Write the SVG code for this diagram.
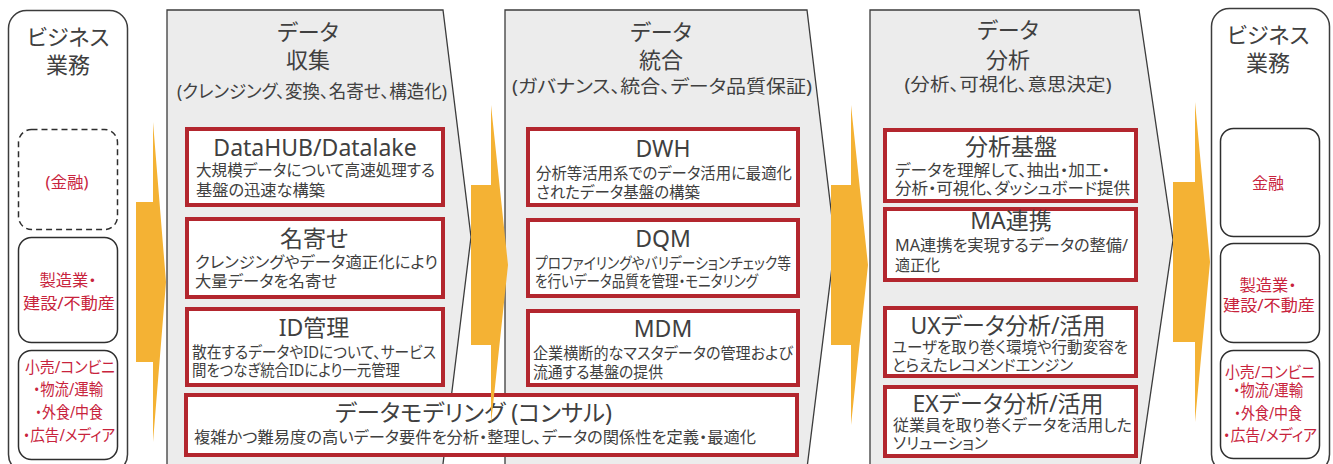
<svg xmlns="http://www.w3.org/2000/svg" width="1333" height="464" viewBox="0 0 1333 464">
<style>
text{font-family:"Noto Sans","Noto Sans CJK JP",sans-serif;fill:#404040;font-feature-settings:"palt";}
.h{font-size:22px;text-anchor:middle;}
.sub{font-size:18px;text-anchor:middle;}
.t{font-size:23px;text-anchor:middle;}
.d{font-size:16px;}
.r{fill:#C8233C;font-size:16px;text-anchor:middle;}
.panel{fill:#ECECEC;stroke:#3C3C3C;stroke-width:1.3;}
.box{fill:#FFFFFF;stroke:#B3262E;stroke-width:4;}
.cont{fill:#FFFFFF;stroke:#3C3C3C;stroke-width:1.5;}
.inner{fill:#FFFFFF;stroke:#2E2E2E;stroke-width:1.5;}
.arrow{fill:#F4B234;}
</style>
<rect width="1333" height="464" fill="#FFFFFF"/>

<g id="business-left">
<rect class="cont" x="8.5" y="10.5" width="119" height="462" rx="18"/>
<text class="h" x="68" y="45">ビジネス</text>
<text class="h" x="68" y="73">業務</text>
<rect class="inner" x="18.5" y="129.5" width="99" height="100" rx="13" stroke-dasharray="6,4"/>
<text class="r" x="67" y="188" textLength="43" lengthAdjust="spacingAndGlyphs">(金融)</text>
<rect class="inner" x="18.5" y="237.5" width="99" height="105" rx="13"/>
<text class="r" x="68" y="286" textLength="57" lengthAdjust="spacingAndGlyphs">製造業・</text>
<text class="r" x="69" y="309" textLength="92" lengthAdjust="spacingAndGlyphs">建設/不動産</text>
<rect class="inner" x="18.5" y="350.5" width="99" height="109" rx="13"/>
<text class="r" x="70" y="373" textLength="90" lengthAdjust="spacingAndGlyphs">小売/コンビニ</text>
<text class="r" x="68" y="395" textLength="70" lengthAdjust="spacingAndGlyphs">・物流/運輸</text>
<text class="r" x="69" y="418" textLength="68" lengthAdjust="spacingAndGlyphs">・外食/中食</text>
<text class="r" x="69" y="441" textLength="92" lengthAdjust="spacingAndGlyphs">・広告/メディア</text>
</g>

<g id="stage-collect">
<path class="panel" d="M167,10 H443 L471,237 L441.5,476 H167 Z"/>
<text class="h" x="308" y="40">データ</text>
<text class="h" x="308" y="68">収集</text>
<text class="sub" x="312" y="98" textLength="270" lengthAdjust="spacingAndGlyphs">(クレンジング、変換、名寄せ、構造化)</text>
</g>
<g id="box-datahub">
<rect class="box" x="187" y="129" width="256" height="76"/>
<text class="t" x="315" y="156">DataHUB/Datalake</text>
<text class="d" x="196" y="176" textLength="239" lengthAdjust="spacingAndGlyphs">大規模データについて高速処理する</text>
<text class="d" x="196" y="196" textLength="129" lengthAdjust="spacingAndGlyphs">基盤の迅速な構築</text>
</g>
<g id="box-nayose">
<rect class="box" x="187" y="219" width="256" height="78"/>
<text class="t" x="314" y="247">名寄せ</text>
<text class="d" x="195" y="268" textLength="243" lengthAdjust="spacingAndGlyphs">クレンジングやデータ適正化により</text>
<text class="d" x="195" y="287" textLength="142" lengthAdjust="spacingAndGlyphs">大量データを名寄せ</text>
</g>
<g id="box-id">
<rect class="box" x="187" y="309" width="256" height="76"/>
<text class="t" x="314" y="336">ID管理</text>
<text class="d" x="192" y="358" textLength="244" lengthAdjust="spacingAndGlyphs">散在するデータやIDについて、サービス</text>
<text class="d" x="192" y="376" textLength="208" lengthAdjust="spacingAndGlyphs">間をつなぎ統合IDにより一元管理</text>
</g>

<g id="stage-integrate">
<path class="panel" d="M505,10 H807 L835,243 L806,476 H505 Z"/>
<text class="h" x="661" y="40">データ</text>
<text class="h" x="661" y="68">統合</text>
<text class="sub" x="662" y="93" textLength="300" lengthAdjust="spacingAndGlyphs">(ガバナンス、統合、データ品質保証)</text>
</g>
<g id="box-dwh">
<rect class="box" x="528" y="129" width="270" height="76"/>
<text class="t" x="663" y="157">DWH</text>
<text class="d" x="536" y="179" textLength="256" lengthAdjust="spacingAndGlyphs">分析等活用系でのデータ活用に最適化</text>
<text class="d" x="536" y="198" textLength="164" lengthAdjust="spacingAndGlyphs">されたデータ基盤の構築</text>
</g>
<g id="box-dqm">
<rect class="box" x="528" y="220" width="270" height="76"/>
<text class="t" x="663" y="247">DQM</text>
<text class="d" x="535" y="269" textLength="256" lengthAdjust="spacingAndGlyphs">プロファイリングやバリデーションチェック等</text>
<text class="d" x="535" y="287" textLength="223" lengthAdjust="spacingAndGlyphs">を行いデータ品質を管理・モニタリング</text>
</g>
<g id="box-mdm">
<rect class="box" x="528" y="311" width="270" height="74"/>
<text class="t" x="663" y="337">MDM</text>
<text class="d" x="533" y="359" textLength="260" lengthAdjust="spacingAndGlyphs">企業横断的なマスタデータの管理および</text>
<text class="d" x="533" y="378" textLength="130" lengthAdjust="spacingAndGlyphs">流通する基盤の提供</text>
</g>

<g id="box-modeling">
<rect class="box" x="186" y="395" width="611" height="60"/>
<text class="t" x="335" y="421" style="text-anchor:start" textLength="277" lengthAdjust="spacingAndGlyphs">データモデリング (コンサル)</text>
<text class="d" x="194" y="443" textLength="562" lengthAdjust="spacingAndGlyphs">複雑かつ難易度の高いデータ要件を分析・整理し、データの関係性を定義・最適化</text>
</g>

<g id="stage-analyze">
<path class="panel" d="M870,10 H1139 L1173,240 L1138.5,476 H870 Z"/>
<text class="h" x="1008" y="38">データ</text>
<text class="h" x="1008" y="68">分析</text>
<text class="sub" x="1008" y="91" textLength="207" lengthAdjust="spacingAndGlyphs">(分析、可視化、意思決定)</text>
</g>
<g id="box-kiban">
<rect class="box" x="885" y="130" width="251" height="71"/>
<text class="t" x="1011" y="155">分析基盤</text>
<text class="d" x="895" y="176" textLength="215" lengthAdjust="spacingAndGlyphs">データを理解して、抽出・加工・</text>
<text class="d" x="895" y="194" textLength="235" lengthAdjust="spacingAndGlyphs">分析・可視化、ダッシュボード提供</text>
</g>
<g id="box-ma">
<rect class="box" x="885" y="209" width="251" height="71"/>
<text class="t" x="1011" y="229">MA連携</text>
<text class="d" x="895" y="251" textLength="233" lengthAdjust="spacingAndGlyphs">MA連携を実現するデータの整備/</text>
<text class="d" x="895" y="271" textLength="45" lengthAdjust="spacingAndGlyphs">適正化</text>
</g>
<g id="box-ux">
<rect class="box" x="885" y="308" width="251" height="68"/>
<text class="t" x="1008" y="334">UXデータ分析/活用</text>
<text class="d" x="892" y="353" textLength="236" lengthAdjust="spacingAndGlyphs">ユーザを取り巻く環境や行動変容を</text>
<text class="d" x="892" y="371" textLength="181" lengthAdjust="spacingAndGlyphs">とらえたレコメンドエンジン</text>
</g>
<g id="box-ex">
<rect class="box" x="885" y="387" width="251" height="69"/>
<text class="t" x="1008" y="412">EXデータ分析/活用</text>
<text class="d" x="893" y="431" textLength="239" lengthAdjust="spacingAndGlyphs">従業員を取り巻くデータを活用した</text>
<text class="d" x="893" y="449" textLength="95" lengthAdjust="spacingAndGlyphs">ソリューション</text>
</g>

<g id="business-right">
<rect class="cont" x="1211.5" y="8.5" width="118" height="464" rx="18"/>
<text class="h" x="1268" y="43">ビジネス</text>
<text class="h" x="1268" y="71">業務</text>
<rect class="inner" x="1220.5" y="128.5" width="99" height="108" rx="13"/>
<text class="r" x="1268" y="189">金融</text>
<rect class="inner" x="1220.5" y="243.5" width="99" height="99" rx="13"/>
<text class="r" x="1268" y="291" textLength="57" lengthAdjust="spacingAndGlyphs">製造業・</text>
<text class="r" x="1269" y="311" textLength="92" lengthAdjust="spacingAndGlyphs">建設/不動産</text>
<rect class="inner" x="1220.5" y="350.5" width="99" height="108" rx="13"/>
<text class="r" x="1270" y="378" textLength="90" lengthAdjust="spacingAndGlyphs">小売/コンビニ</text>
<text class="r" x="1268" y="396" textLength="70" lengthAdjust="spacingAndGlyphs">・物流/運輸</text>
<text class="r" x="1268" y="419" textLength="68" lengthAdjust="spacingAndGlyphs">・外食/中食</text>
<text class="r" x="1270" y="441" textLength="94" lengthAdjust="spacingAndGlyphs">・広告/メディア</text>
</g>

<g id="connectors">
<polygon class="arrow" points="136,202 153,202 153,122 166,282 153,442 153,362 136,362"/>
<polygon class="arrow" points="471,185 491,185 491,105 508,265 491,424 491,345 471,345"/>
<polygon class="arrow" points="831,185 851,185 851,105 868,265 851,425 851,345 831,345"/>
<polygon class="arrow" points="1173,182 1195,182 1195,102 1210,262 1195,422 1195,342 1173,342"/>
</g>
</svg>
